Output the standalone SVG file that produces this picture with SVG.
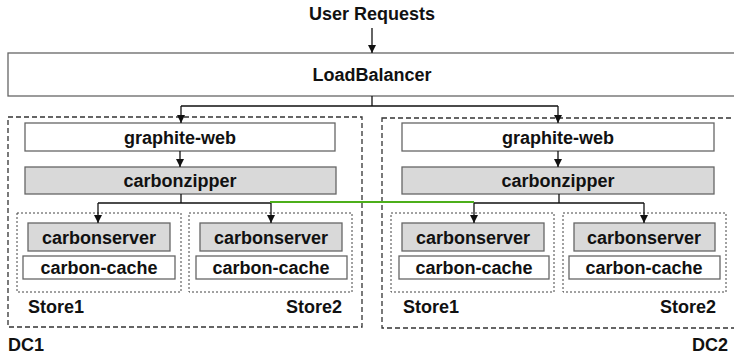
<svg xmlns="http://www.w3.org/2000/svg" width="734" height="355" viewBox="0 0 734 355">
<style>
text{font-family:"Liberation Sans",Arial,sans-serif;font-weight:bold;font-size:18px;fill:#111}
.c{text-anchor:middle}
.box{fill:#fff;stroke:#666;stroke-width:1.3}
.gray{fill:#d9d9d9;stroke:#666;stroke-width:1.3}
.dc{fill:none;stroke:#333;stroke-width:1.3;stroke-dasharray:5 3}
.st{fill:none;stroke:#444;stroke-width:1;stroke-dasharray:2 2}
.ln{fill:none;stroke:#111;stroke-width:1.3}
.ar{fill:none;stroke:#111;stroke-width:1.3;marker-end:url(#ah)}
</style>
<defs>
<marker id="ah" viewBox="0 0 10 10" refX="10" refY="5" markerWidth="8" markerHeight="8" markerUnits="userSpaceOnUse" orient="auto">
<path d="M0,0 L10,5 L0,10 Z" fill="#111"/>
</marker>
</defs>
<rect width="734" height="355" fill="#fff"/>
<g id="user"><text class="c" x="372" y="20">User Requests</text></g>
<g id="lb"><rect class="box" x="8" y="53" width="740" height="43"/><text class="c" x="372" y="81">LoadBalancer</text></g>
<g id="dc1">
<rect class="dc" x="8" y="117" width="354" height="210"/>
<text x="8" y="351">DC1</text>
<g id="dc1-web"><rect class="box" x="25" y="123" width="310" height="28"/><text class="c" x="180" y="144">graphite-web</text></g>
<g id="dc1-zip"><rect class="gray" x="25" y="167" width="311" height="27"/><text class="c" x="180" y="187">carbonzipper</text></g>
<g id="dc1-store1"><rect class="st" x="17" y="213" width="164" height="79"/>
<rect class="gray" x="28" y="223" width="142" height="28"/><text class="c" x="99" y="244">carbonserver</text>
<rect class="box" x="23" y="256" width="152" height="23"/><text class="c" x="99" y="274">carbon-cache</text>
<text x="28" y="313">Store1</text></g>
<g id="dc1-store2"><rect class="st" x="189" y="213" width="163" height="79"/>
<rect class="gray" x="200" y="223" width="142" height="28"/><text class="c" x="271" y="244">carbonserver</text>
<rect class="box" x="196" y="256" width="151" height="23"/><text class="c" x="271" y="274">carbon-cache</text>
<text x="342" y="313" text-anchor="end">Store2</text></g>
</g>
<g id="dc2">
<rect class="dc" x="382" y="118" width="360" height="210"/>
<text x="728" y="351" text-anchor="end">DC2</text>
<g id="dc2-web"><rect class="box" x="402" y="123" width="312" height="28"/><text class="c" x="558" y="144">graphite-web</text></g>
<g id="dc2-zip"><rect class="gray" x="402" y="167" width="312" height="27"/><text class="c" x="558" y="187">carbonzipper</text></g>
<g id="dc2-store1"><rect class="st" x="391" y="213" width="163" height="79"/>
<rect class="gray" x="402" y="223" width="142" height="28"/><text class="c" x="473" y="244">carbonserver</text>
<rect class="box" x="399" y="256" width="150" height="23"/><text class="c" x="474" y="274">carbon-cache</text>
<text x="403" y="313">Store1</text></g>
<g id="dc2-store2"><rect class="st" x="563" y="213" width="163" height="79"/>
<rect class="gray" x="574" y="223" width="141" height="28"/><text class="c" x="644" y="244">carbonserver</text>
<rect class="box" x="569" y="256" width="151" height="23"/><text class="c" x="644" y="274">carbon-cache</text>
<text x="716" y="313" text-anchor="end">Store2</text></g>
</g>
<g id="connectors">
<path class="ar" d="M372,28 V53"/>
<path class="ln" d="M372,96 V106 M181,106 H558"/>
<path class="ar" d="M181,106 V123"/>
<path class="ar" d="M558,106 V123"/>
<path class="ar" d="M180,151 V167"/>
<path class="ar" d="M558,151 V167"/>
<path class="ln" d="M181,194 V203 M98,203 H271"/>
<path class="ar" d="M98,203 V223"/>
<path class="ar" d="M271,203 V223"/>
<path class="ln" d="M559,194 V203 M474,203 H644"/>
<path class="ar" d="M474,203 V223"/>
<path class="ar" d="M644,203 V223"/>
<path d="M270,202 H474" fill="none" stroke="#4caf1a" stroke-width="2"/>
</g>
</svg>
